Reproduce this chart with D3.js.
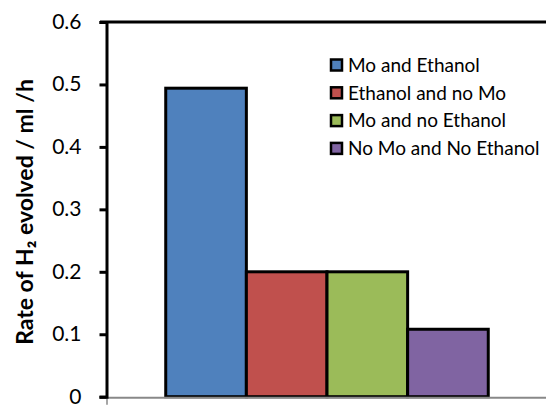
<!DOCTYPE html>
<html><head><meta charset="utf-8">
<script src="https://cdn.jsdelivr.net/npm/d3@7"></script>
<style>body{margin:0;background:#fff}svg{display:block}</style>
</head><body>
<script>
const categories = ["Mo and Ethanol", "Ethanol and no Mo", "Mo and no Ethanol", "No Mo and No Ethanol"];
const values = [0.494, 0.2, 0.2, 0.108];
const colors = ["#4f81bd", "#c0504d", "#9bbb59", "#8064a2"];
const yTicks = [0, 0.1, 0.2, 0.3, 0.4, 0.5, 0.6];
const yTitle = "Rate of H₂ evolved / ml /h";

const W = 546, H = 405;
const m = {left: 108, right: 0, top: 22, bottom: 8};
const svg = d3.select("body").append("svg").attr("width", W).attr("height", H);
const font = "Lato, 'Open Sans', sans-serif";

const y = d3.scaleLinear().domain([0, 0.6]).range([H - m.bottom - 0.3, m.top]);
const x0 = d3.scaleBand().domain(["g"]).range([m.left, W]).paddingInner(0).paddingOuter(0.179);
const x = d3.scaleBand().domain(categories).range([x0("g"), x0("g") + x0.bandwidth()]).padding(0);

// top border
svg.append("line").attr("x1", m.left - 8).attr("x2", W).attr("y1", y(0.6)).attr("y2", y(0.6))
  .attr("stroke", "#000").attr("stroke-width", 3);

// bars
svg.append("g").selectAll("rect").data(categories).join("rect")
  .attr("x", d => x(d)).attr("width", x.bandwidth())
  .attr("y", (d, i) => y(values[i])).attr("height", (d, i) => y(0) - y(values[i]))
  .attr("fill", (d, i) => colors[i]).attr("stroke", "#000").attr("stroke-width", 3);

// x axis (gray)
svg.append("line").attr("x1", m.left - 1).attr("x2", W).attr("y1", y(0) + 1).attr("y2", y(0) + 1)
  .attr("stroke", "#888").attr("stroke-width", 2);
svg.append("line").attr("x1", m.left - 1).attr("x2", m.left - 1).attr("y1", y(0)).attr("y2", y(0) + 8)
  .attr("stroke", "#888").attr("stroke-width", 1.5);

// y axis
const ya = svg.append("g").attr("transform", `translate(${m.left - 1.5},0)`)
  .call(d3.axisLeft(y).tickValues(yTicks).tickFormat(d => d === 0 ? "0" : d3.format(".1f")(d)).tickSizeOuter(0).tickSize(7).tickPadding(18));
ya.select(".domain").attr("stroke", "#000").attr("stroke-width", 3);
ya.selectAll(".tick line").attr("stroke", "#000").attr("stroke-width", 3);
ya.selectAll(".tick text").attr("fill", "#000").attr("dy", "0.3em").style("font-family", font).style("font-size", "21px");

// y title
svg.append("text").attr("transform", `translate(33,212) rotate(-90)`)
  .attr("text-anchor", "middle").style("font-family", font).style("font-size", "23px")
  .style("font-weight", "bold").text(yTitle);

// legend
const lg = svg.append("g").selectAll("g").data(categories).join("g")
  .attr("transform", (d, i) => `translate(330,${65 + i * 27.8})`);
lg.append("rect").attr("x", 1).attr("y", -5.5).attr("width", 11).attr("height", 11)
  .attr("fill", (d, i) => colors[i]).attr("stroke", "#000").attr("stroke-width", 2.5);
lg.append("text").attr("x", 18).attr("dy", "0.36em").style("font-family", font).style("font-size", "19px")
  .attr("fill", "#000").text(d => d);
</script>
</body></html>
